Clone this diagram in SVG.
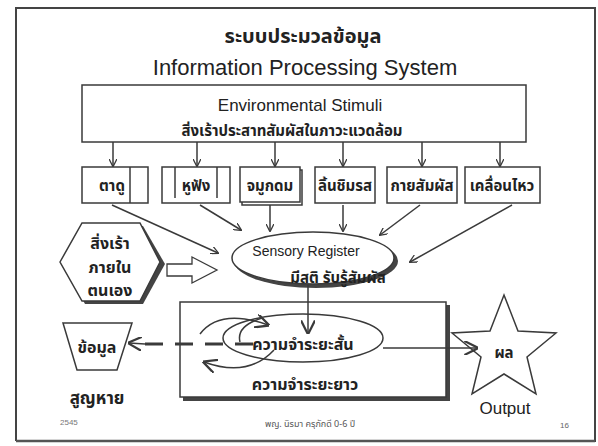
<svg xmlns="http://www.w3.org/2000/svg" width="598" height="446" viewBox="0 0 598 446">
<defs>
<style>
.ln{fill:none;stroke:#3a3a3a;stroke-width:1.5}
.bx{fill:#fff;stroke:#3a3a3a;stroke-width:1.5}
.th{font-family:"Noto Sans Thai","Loma","Garuda","Tlwg Typo","DejaVu Sans",sans-serif;font-weight:bold;fill:#222;text-anchor:middle}
.en{font-family:"Liberation Sans",Arial,sans-serif;fill:#222;text-anchor:middle}
.ft{font-family:"Noto Sans Thai","Loma","Garuda","DejaVu Sans",sans-serif;font-weight:normal;fill:#555;text-anchor:middle}
</style>
<marker id="ah" viewBox="0 0 10 10" refX="9" refY="5" markerWidth="8" markerHeight="8" orient="auto" markerUnits="userSpaceOnUse"><path d="M0,0 L10,5 L0,10" fill="none" stroke="#3a3a3a" stroke-width="1.6"/></marker>
<marker id="ahb" viewBox="0 0 10 10" refX="9" refY="5" markerWidth="14" markerHeight="14" orient="auto" markerUnits="userSpaceOnUse"><path d="M0,0 L10,5 L0,10" fill="none" stroke="#3a3a3a" stroke-width="1.6"/></marker>
</defs>
<rect x="0" y="0" width="598" height="446" fill="#fff"/>
<!-- frame -->
<path d="M16,441 L16,8 L595,8 L595,442" fill="none" stroke="#444" stroke-width="2"/>
<line x1="16" y1="441" x2="595" y2="441" stroke="#555" stroke-width="2.5"/>
<!-- titles -->
<text class="th" x="303" y="43" font-size="20">ระบบประมวลข้อมูล</text>
<text class="en" x="305" y="75" font-size="22">Information Processing System</text>

<g id="env">
<rect class="bx" x="82" y="85" width="444" height="57"/>
<text class="en" x="300" y="111" font-size="17">Environmental Stimuli</text>
<text class="th" x="292" y="136" font-size="15">สิ่งเร้าประสาทสัมผัสในภาวะแวดล้อม</text>
</g>

<g id="sense-eye"><rect class="bx" x="82" y="167" width="66" height="36"/><line class="ln" x1="130" y1="167" x2="130" y2="203"/><text class="th" x="112" y="191" font-size="15">ตาดู</text></g>
<g id="sense-ear"><rect class="bx" x="162" y="167" width="68" height="36"/><line class="ln" x1="175" y1="167" x2="175" y2="198"/><line class="ln" x1="217" y1="167" x2="217" y2="198"/><text class="th" x="196" y="191" font-size="15">หูฟัง</text></g>
<g id="sense-nose"><rect class="bx" x="242" y="170" width="60" height="35"/><rect class="bx" x="240" y="167" width="60" height="35"/><text class="th" x="270" y="191" font-size="15">จมูกดม</text></g>
<g id="sense-tongue"><rect class="bx" x="315" y="167" width="60" height="36"/><text class="th" x="345" y="191" font-size="15">ลิ้นชิมรส</text></g>
<g id="sense-touch"><rect class="bx" x="387" y="167" width="70" height="36"/><text class="th" x="422" y="191" font-size="15">กายสัมผัส</text></g>
<g id="sense-move"><rect class="bx" x="465" y="167" width="75" height="36"/><text class="th" x="502" y="191" font-size="15">เคลื่อนไหว</text></g>

<g id="internal">
<polygon points="63,264 85,226 143,226 165,264 143,304 85,304" fill="#444"/>
<polygon class="bx" points="60,262 82,223 140,223 160,262 140,301 82,301"/>
<text class="th" x="110" y="249" font-size="16">สิ่งเร้า</text>
<text class="th" x="110" y="273" font-size="16">ภายใน</text>
<text class="th" x="110" y="296" font-size="16">ตนเอง</text>
</g>

<g id="sensory">
<ellipse cx="316" cy="261" rx="82" ry="27" fill="#444"/>
<ellipse class="bx" cx="313" cy="258" rx="81" ry="26"/>
<text class="en" x="306" y="256" font-size="14">Sensory Register</text>
<text class="th" x="338" y="283" font-size="15">มีสติ รับรู้สัมผัส</text>
</g>

<g id="memory">
<rect x="183" y="305" width="267" height="96" fill="#444"/>
<rect class="bx" x="180" y="302" width="266" height="95"/>
<ellipse class="ln" cx="303" cy="338" rx="80" ry="24" stroke-width="2.5"/>
<text class="th" x="303" y="350" font-size="16">ความจำระยะสั้น</text>
<text class="th" x="305" y="390" font-size="16">ความจำระยะยาว</text>
</g>

<g id="data">
<polygon class="bx" points="63,323 132,323 117,370 77,370"/>
<text class="th" x="97" y="353" font-size="16">ข้อมูล</text>
<text class="th" x="97" y="404" font-size="17">สูญหาย</text>
</g>

<g id="output">
<polygon class="bx" points="504,295 518,331 556,333 527,357 536,394 504,374 472,394 481,357 452,333 490,331"/>
<text class="th" x="504" y="358" font-size="15">ผล</text>
<text class="en" x="505" y="414" font-size="17">Output</text>
</g>

<g id="connectors">
<line class="ln" x1="113" y1="142" x2="113" y2="166" marker-end="url(#ah)"/>
<line class="ln" x1="197" y1="142" x2="197" y2="166" marker-end="url(#ah)"/>
<line class="ln" x1="275" y1="142" x2="275" y2="166" marker-end="url(#ah)"/>
<line class="ln" x1="343" y1="142" x2="343" y2="166" marker-end="url(#ah)"/>
<line class="ln" x1="422" y1="142" x2="422" y2="166" marker-end="url(#ah)"/>
<line class="ln" x1="500" y1="142" x2="500" y2="166" marker-end="url(#ah)"/>
<line class="ln" x1="112" y1="205" x2="218" y2="253" marker-end="url(#ah)"/>
<line class="ln" x1="200" y1="205" x2="241" y2="230" marker-end="url(#ah)"/>
<line class="ln" x1="270" y1="205" x2="270" y2="231" marker-end="url(#ah)"/>
<line class="ln" x1="343" y1="205" x2="343" y2="231" marker-end="url(#ah)"/>
<line class="ln" x1="420" y1="205" x2="380" y2="235" marker-end="url(#ah)"/>
<line class="ln" x1="512" y1="205" x2="410" y2="262" marker-end="url(#ah)"/>
<path d="M167,264 L192,264 L192,257 L217,270 L192,283 L192,276 L167,276 Z" fill="#fff" stroke="#3a3a3a" stroke-width="1.3"/>
<line class="ln" x1="308" y1="285" x2="308" y2="333" stroke-width="2" marker-end="url(#ahb)"/>
<path class="ln" d="M200,334 Q220,308 268,325" stroke-width="2" marker-end="url(#ahb)"/>
<path class="ln" d="M274,350 Q248,378 204,362" stroke-width="2" marker-end="url(#ahb)"/>
<path class="ln" d="M262,318 Q236,326 240,342" stroke-width="2"/>
<line x1="253" y1="344" x2="140" y2="344" stroke="#3a3a3a" stroke-width="3" stroke-dasharray="18 12"/>
<line class="ln" x1="145" y1="344" x2="129" y2="343" stroke-width="2" marker-end="url(#ahb)"/>
<line class="ln" x1="383" y1="348" x2="477" y2="348" stroke-width="2" marker-end="url(#ahb)"/>
</g>

<text x="60" y="425" font-family="Liberation Sans,sans-serif" font-size="8" fill="#777">2545</text>
<text class="ft" x="310" y="427" font-size="9">พญ. นิรมา ครุภักดี  0-6 ปี</text>
<text x="560" y="428" font-family="Liberation Sans,sans-serif" font-size="8" fill="#666">16</text>
</svg>
